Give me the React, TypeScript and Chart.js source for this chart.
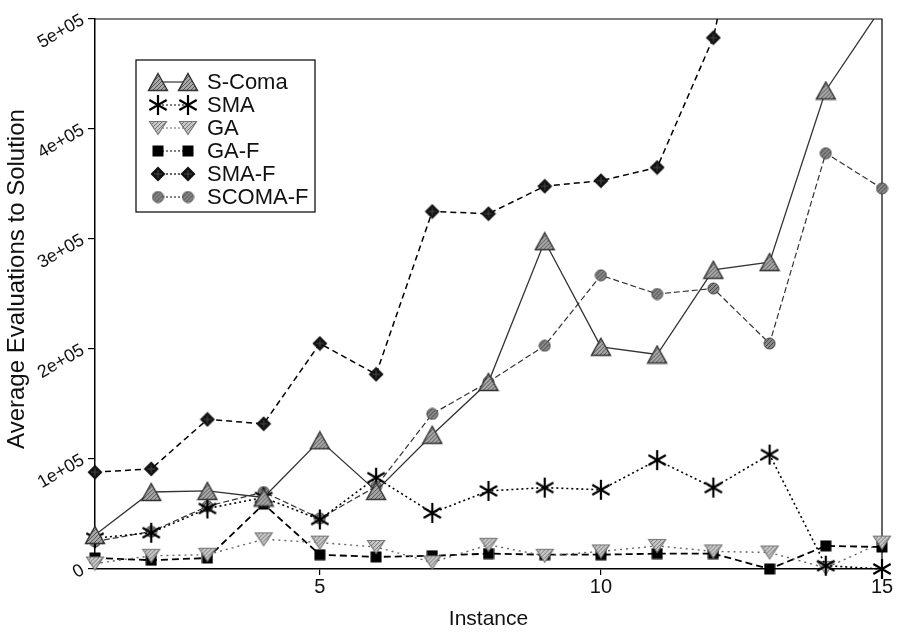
import React, { useEffect, useRef } from "react";
import { Chart, registerables } from "chart.js";

Chart.register(...registerables);

const instances = [1, 2, 3, 4, 5, 6, 7, 8, 9, 10, 11, 12, 13, 14, 15];
const xTickValues = [5, 10, 15];
const yTickValues = [0, 100000, 200000, 300000, 400000, 500000];
const yTickLabels = ["0", "1e+05", "2e+05", "3e+05", "4e+05", "5e+05"];
const xTitle = "Instance";
const yTitle = "Average Evaluations to Solution";

const seriesNames = ["S-Coma", "SMA", "GA", "GA-F", "SMA-F", "SCOMA-F"];
const sComa = [31000, 70000, 71000, 65000, 117000, 71000, 122000, 170000, 298000, 202000, 195000, 272000, 279000, 435000, 511000];
const sma = [28000, 33000, 55000, 65000, 45000, 83000, 51000, 71000, 74000, 72000, 99000, 74000, 104000, 3000, 0];
const ga = [5000, 12000, 13000, 27000, 24000, 20000, 6000, 22000, 12000, 16000, 21000, 16000, 15000, 1000, 24000];
const gaF = [10000, 8000, 10000, 59000, 13000, 11000, 12000, 14000, 13000, 13000, 14000, 14000, 0, 21000, 20000];
const smaF: (number | null)[] = [88000, 91000, 136000, 132000, 205000, 177000, 325000, 323000, 348000, 353000, 365000, 483000, 720000, null, null];
const scomaF = [25000, 34000, 57000, 70000, 46000, 75000, 141000, 170000, 203000, 267000, 250000, 255000, 205000, 378000, 346000];

function mk(w: number, h: number, draw: (c: CanvasRenderingContext2D) => void) {
  const cv = document.createElement("canvas");
  cv.width = w;
  cv.height = h;
  const c = cv.getContext("2d")!;
  draw(c);
  return cv;
}

function hatch(c: CanvasRenderingContext2D, base: string, line: string) {
  const p = mk(4, 4, (g) => {
    g.fillStyle = base;
    g.fillRect(0, 0, 4, 4);
    g.strokeStyle = line;
    g.lineWidth = 1;
    g.beginPath();
    g.moveTo(0, 4);
    g.lineTo(4, 0);
    g.stroke();
  });
  return c.createPattern(p, "repeat")!;
}

function makeMarkers() {
  const triUp = mk(22, 20, (c) => {
    c.beginPath();
    c.moveTo(11, 1.5);
    c.lineTo(20.5, 18.5);
    c.lineTo(1.5, 18.5);
    c.closePath();
    c.fillStyle = hatch(c, "#a8a8a8", "#555");
    c.fill();
    c.strokeStyle = "#333";
    c.lineWidth = 1.4;
    c.stroke();
  });
  const star = mk(22, 22, (c) => {
    c.strokeStyle = "#000";
    c.lineWidth = 2.2;
    c.beginPath();
    for (let i = 0; i < 3; i++) {
      const a = (Math.PI / 3) * i + Math.PI / 2;
      c.moveTo(11 + Math.cos(a) * 10, 11 + Math.sin(a) * 10);
      c.lineTo(11 - Math.cos(a) * 10, 11 - Math.sin(a) * 10);
    }
    c.stroke();
  });
  const triDown = mk(20, 16, (c) => {
    c.beginPath();
    c.moveTo(1.5, 1.5);
    c.lineTo(18.5, 1.5);
    c.lineTo(10, 14.5);
    c.closePath();
    c.fillStyle = hatch(c, "#c8c8c8", "#777");
    c.fill();
    c.strokeStyle = "#777";
    c.lineWidth = 1.2;
    c.stroke();
  });
  const square = mk(12, 12, (c) => {
    c.fillStyle = "#000";
    c.fillRect(0.5, 0.5, 11, 11);
  });
  const diamond = mk(16, 16, (c) => {
    c.beginPath();
    c.moveTo(8, 0.5);
    c.lineTo(15.5, 8);
    c.lineTo(8, 15.5);
    c.lineTo(0.5, 8);
    c.closePath();
    c.fillStyle = "#111";
    c.fill();
    c.strokeStyle = "#555";
    c.lineWidth = 0.8;
    c.beginPath();
    c.moveTo(8, 4);
    c.lineTo(8, 12);
    c.moveTo(4, 8);
    c.lineTo(12, 8);
    c.stroke();
  });
  const circle = mk(13, 13, (c) => {
    c.beginPath();
    c.arc(6.5, 6.5, 5.5, 0, Math.PI * 2);
    c.fillStyle = hatch(c, "#8a8a8a", "#444");
    c.fill();
    c.strokeStyle = "#444";
    c.lineWidth = 1;
    c.stroke();
  });
  return [triUp, star, triDown, square, diamond, circle];
}

const FONT = "'Liberation Sans', Arial, Helvetica, sans-serif";

export default function App() {
  const ref = useRef<HTMLCanvasElement>(null);
  useEffect(() => {
    const markers = makeMarkers();
    const values = [sComa, sma, ga, gaF, smaF, scomaF];
    const colors = ["#333", "#000", "#666", "#000", "#000", "#333"];
    const dashes = [[], [2, 3], [2, 4], [7, 4], [6, 4], [6, 3]];
    const widths = [1.3, 1.6, 1.4, 1.8, 1.5, 1.2];
    const clip = { left: 20, right: 20, top: 0, bottom: 20 };

    const datasets = seriesNames.map((name, i) => ({
      label: name,
      data: instances.map((x, j) => ({ x, y: values[i][j] })),
      borderColor: colors[i],
      borderWidth: widths[i],
      borderDash: dashes[i],
      pointStyle: markers[i],
      pointRadius: 8,
      showLine: true,
      fill: false,
      tension: 0,
      spanGaps: false,
      clip,
    }));

    const frame = {
      id: "frame",
      beforeDatasetsDraw(chart: any) {
        const { ctx, chartArea: a } = chart;
        ctx.save();
        ctx.strokeStyle = "#000";
        ctx.lineWidth = 1.2;
        ctx.beginPath();
        ctx.moveTo(a.left, a.top);
        ctx.lineTo(a.right, a.top);
        ctx.lineTo(a.right, a.bottom);
        ctx.stroke();
        ctx.restore();
      },
      afterDraw(chart: any) {
        const { ctx, chartArea: a } = chart;
        ctx.save();
        ctx.translate(17, (a.top + a.bottom) / 2 - 15);
        ctx.rotate(-Math.PI / 2);
        ctx.fillStyle = "#111";
        ctx.font = `24px ${FONT}`;
        ctx.textAlign = "center";
        ctx.textBaseline = "middle";
        ctx.fillText(yTitle, 0, 0);
        ctx.restore();
      },
    };

    const legend = {
      id: "customLegend",
      afterDraw(chart: any) {
        const { ctx } = chart;
        const bx = 136, by = 60, bw = 179, bh = 152;
        ctx.save();
        ctx.fillStyle = "#fff";
        ctx.fillRect(bx, by, bw, bh);
        ctx.strokeStyle = "#000";
        ctx.lineWidth = 1.2;
        ctx.strokeRect(bx, by, bw, bh);
        chart.data.datasets.forEach((ds: any, i: number) => {
          const cy = 82 + i * 23;
          const x1 = 158, x2 = 188;
          ctx.strokeStyle = ds.borderColor;
          ctx.lineWidth = 1.2;
          ctx.setLineDash(ds.borderDash.length ? [2, 2] : []);
          ctx.beginPath();
          ctx.moveTo(x1, cy);
          ctx.lineTo(x2, cy);
          ctx.stroke();
          ctx.setLineDash([]);
          const img = ds.pointStyle as HTMLCanvasElement;
          ctx.drawImage(img, x1 - img.width / 2, cy - img.height / 2);
          ctx.drawImage(img, x2 - img.width / 2, cy - img.height / 2);
          ctx.fillStyle = "#111";
          ctx.font = `22px ${FONT}`;
          ctx.textBaseline = "middle";
          ctx.textAlign = "left";
          ctx.fillText(ds.label, 207, cy + 1);
        });
        ctx.restore();
      },
    };

    const chart = new Chart(ref.current!, {
      type: "scatter",
      data: { datasets: datasets as any },
      plugins: [frame, legend],
      options: {
        animation: false,
        responsive: false,
        maintainAspectRatio: false,
        layout: { padding: { top: 19, right: 15, left: 0, bottom: 0 } },
        plugins: { legend: { display: false }, tooltip: { enabled: false } },
        scales: {
          x: {
            type: "linear",
            min: 1,
            max: 15,
            afterBuildTicks: (s: any) => {
              s.ticks = xTickValues.map((v) => ({ value: v }));
            },
            afterFit: (s: any) => {
              s.height = 63;
            },
            grid: { display: true, drawOnChartArea: false, drawTicks: true, tickLength: 6, color: "#000", lineWidth: 1.2 },
            border: { display: true, color: "#000", width: 1.5 },
            ticks: { color: "#111", font: { family: FONT, size: 20 }, padding: 0, maxRotation: 0, autoSkip: false },
            title: { display: true, text: xTitle, color: "#111", font: { family: FONT, size: 21 }, padding: { top: 0, bottom: 0 } },
          },
          y: {
            type: "linear",
            min: 0,
            max: 500000,
            afterBuildTicks: (s: any) => {
              s.ticks = yTickValues.map((v) => ({ value: v }));
            },
            afterFit: (s: any) => {
              s.width = 95;
            },
            grid: { display: true, drawOnChartArea: false, drawTicks: true, tickLength: 7, color: "#000", lineWidth: 1.2 },
            border: { display: true, color: "#000", width: 1.5 },
            ticks: {
              color: "#111",
              font: { family: FONT, size: 18 },
              padding: 5,
              minRotation: 30,
              maxRotation: 30,
              autoSkip: false,
              callback: (v: any) => {
                const k = yTickValues.indexOf(Number(v));
                return k >= 0 ? yTickLabels[k] : "";
              },
            },
            title: { display: false },
          },
        },
      },
    });
    return () => chart.destroy();
  }, []);

  return (
    <div style={{ position: "fixed", left: 0, top: 0, width: 897, height: 632, background: "#fff" }}>
      <canvas ref={ref} width={897} height={632} style={{ width: 897, height: 632 }} />
    </div>
  );
}
